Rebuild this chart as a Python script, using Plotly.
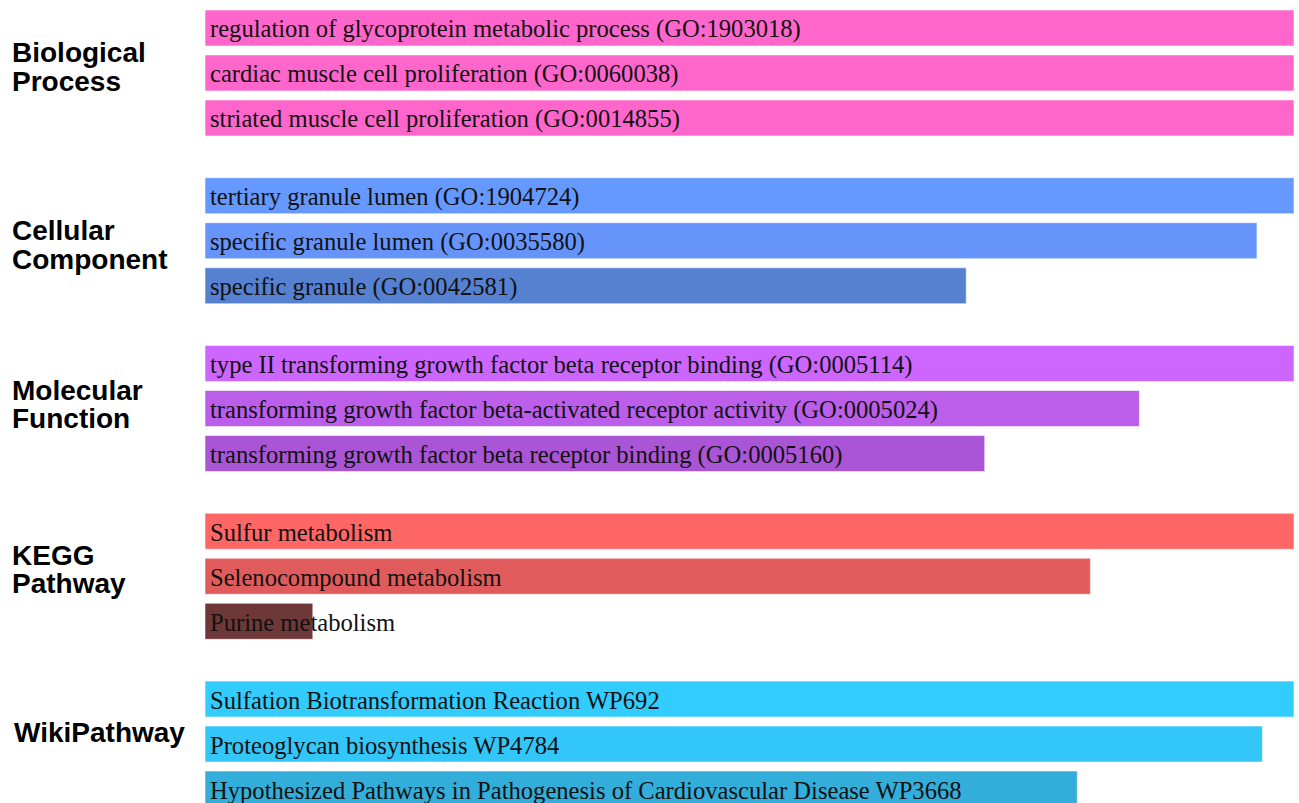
import plotly.graph_objects as go

# Enrichment categories and their top three terms (scores relative to each category's best term)
categories = ["Biological Process", "Cellular Component", "Molecular Function",
              "KEGG Pathway", "WikiPathway"]
category_lines = [["Biological", "Process"], ["Cellular", "Component"],
                  ["Molecular", "Function"], ["KEGG", "Pathway"], ["WikiPathway"]]

bp_terms = ["regulation of glycoprotein metabolic process (GO:1903018)",
            "cardiac muscle cell proliferation (GO:0060038)",
            "striated muscle cell proliferation (GO:0014855)"]
bp_scores = [1.0, 1.0, 1.0]

cc_terms = ["tertiary granule lumen (GO:1904724)",
            "specific granule lumen (GO:0035580)",
            "specific granule (GO:0042581)"]
cc_scores = [1.0, 0.966, 0.699]

mf_terms = ["type II transforming growth factor beta receptor binding (GO:0005114)",
            "transforming growth factor beta-activated receptor activity (GO:0005024)",
            "transforming growth factor beta receptor binding (GO:0005160)"]
mf_scores = [1.0, 0.858, 0.716]

kegg_terms = ["Sulfur metabolism", "Selenocompound metabolism", "Purine metabolism"]
kegg_scores = [1.0, 0.813, 0.099]

wiki_terms = ["Sulfation Biotransformation Reaction WP692",
              "Proteoglycan biosynthesis WP4784",
              "Hypothesized Pathways in Pathogenesis of Cardiovascular Disease WP3668"]
wiki_scores = [1.0, 0.971, 0.801]

bp_colors = ["#FF66CC", "#FF66CC", "#FF66CC"]
cc_colors = ["#6699FF", "#6694FA", "#5680D0"]
mf_colors = ["#CC66FF", "#BB5EEA", "#AA55D5"]
kegg_colors = ["#FF6666", "#E05C5C", "#6E3838"]
wiki_colors = ["#33CCFF", "#33C6F9", "#33ADD9"]

groups = [
    (bp_terms, bp_scores, bp_colors),
    (cc_terms, cc_scores, cc_colors),
    (mf_terms, mf_scores, mf_colors),
    (kegg_terms, kegg_scores, kegg_colors),
    (wiki_terms, wiki_scores, wiki_colors),
]

GROUP_PITCH = 3.728   # rows per category block (3 bars + gap)
BAR_WIDTH = 0.8
LABEL_SHIFT = [-6, 4, -4, -7, -12]      # px nudge of the category label vs. its middle bar
LABEL_X = [10, 10, 10, 10, 12]          # px left offset of the category labels

fig = go.Figure()
annotations = []

for g, (terms, scores, colors) in enumerate(groups):
    ys = [g * GROUP_PITCH + i for i in range(len(terms))]
    fig.add_trace(go.Bar(
        x=scores, y=ys, orientation="h", width=BAR_WIDTH,
        marker=dict(color=colors, line=dict(color="rgba(255,255,255,0.55)", width=1)),
        hoverinfo="text", hovertext=terms, showlegend=False,
    ))
    for y, t in zip(ys, terms):
        annotations.append(dict(
            x=0, y=y, xref="x", yref="y", text=t, showarrow=False,
            xanchor="left", yanchor="middle", xshift=3, yshift=-1,
            font=dict(family="Liberation Serif, Times New Roman, serif", size=24.6, color="#111111"),
        ))
    lines = category_lines[g]
    mid = ys[1]
    n = len(lines)
    for k, ln in enumerate(lines):
        annotations.append(dict(
            x=LABEL_X[g] / 1299, y=mid, xref="paper", yref="y", text="<b>%s</b>" % ln,
            showarrow=False, xanchor="left", yanchor="middle",
            yshift=-(LABEL_SHIFT[g] + (k - (n - 1) / 2) * 28.5),
            font=dict(family="Liberation Sans, Arial, sans-serif", size=28, color="#000000"),
        ))

fig.update_layout(
    width=1299, height=803,
    margin=dict(l=0, r=0, t=0, b=0),
    paper_bgcolor="white", plot_bgcolor="white",
    barmode="overlay",
    annotations=annotations,
    xaxis=dict(domain=[205 / 1299, 1294 / 1299], range=[0, 1.0], visible=False, fixedrange=True),
    yaxis=dict(range=[17.222, -0.622], visible=False, fixedrange=True),
)

fig.write_html("out.html")
